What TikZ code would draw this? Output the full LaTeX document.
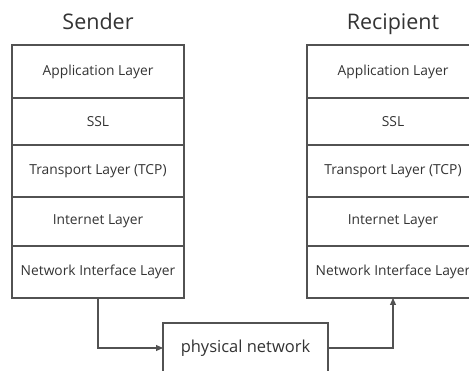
\documentclass[tikz,border=0pt]{standalone}
\usepackage{fontspec}
\setmainfont{Open Sans}
\usetikzlibrary{arrows.meta}
\begin{document}
\begin{tikzpicture}[x=1pt,y=1pt,
  line/.style={draw=black!68, line width=1.1pt},
  layer/.style={line, rectangle, minimum width=172pt, inner sep=0pt, outer sep=0pt, anchor=north, text=black!80, font=\fontsize{13.8}{16}\selectfont},
  title/.style={text=black!80, anchor=base, font=\fontsize{21.5}{24}\selectfont},
  conn/.style={line, -{Triangle[length=7pt,width=6pt]}}]
\useasboundingbox (0,0) rectangle (469,-371);
\begin{scope}
\clip (0,0) rectangle (469,-371);
% Sender
\node[title] (st) at (98,-30) {Sender};
\node[layer, minimum height=53pt] (s1) at (98,-45) {Application Layer};
\node[layer, minimum height=47pt] (s2) at (98,-98) {SSL};
\node[layer, minimum height=52pt] (s3) at (98,-145) {Transport Layer (TCP)};
\node[layer, minimum height=49pt] (s4) at (98,-197) {Internet Layer};
\node[layer, minimum height=52pt] (s5) at (98,-246) {Network Interface Layer};
% Recipient
\node[title] (rt) at (393,-30) {Recipient};
\node[layer, minimum height=53pt] (r1) at (393,-45) {Application Layer};
\node[layer, minimum height=47pt] (r2) at (393,-98) {SSL};
\node[layer, minimum height=52pt] (r3) at (393,-145) {Transport Layer (TCP)};
\node[layer, minimum height=49pt] (r4) at (393,-197) {Internet Layer};
\node[layer, minimum height=52pt] (r5) at (393,-246) {Network Interface Layer};
% physical network
\node[line, rectangle, minimum width=165pt, minimum height=50pt, inner sep=0pt, outer sep=0pt, text=black!80, font=\fontsize{16.5}{19}\selectfont] (pn) at (245.5,-348) {physical network};
\draw[conn] (s5.south) |- (pn.west);
\draw[conn] (pn.east) -| (r5.south);
\end{scope}
\end{tikzpicture}
\end{document}
